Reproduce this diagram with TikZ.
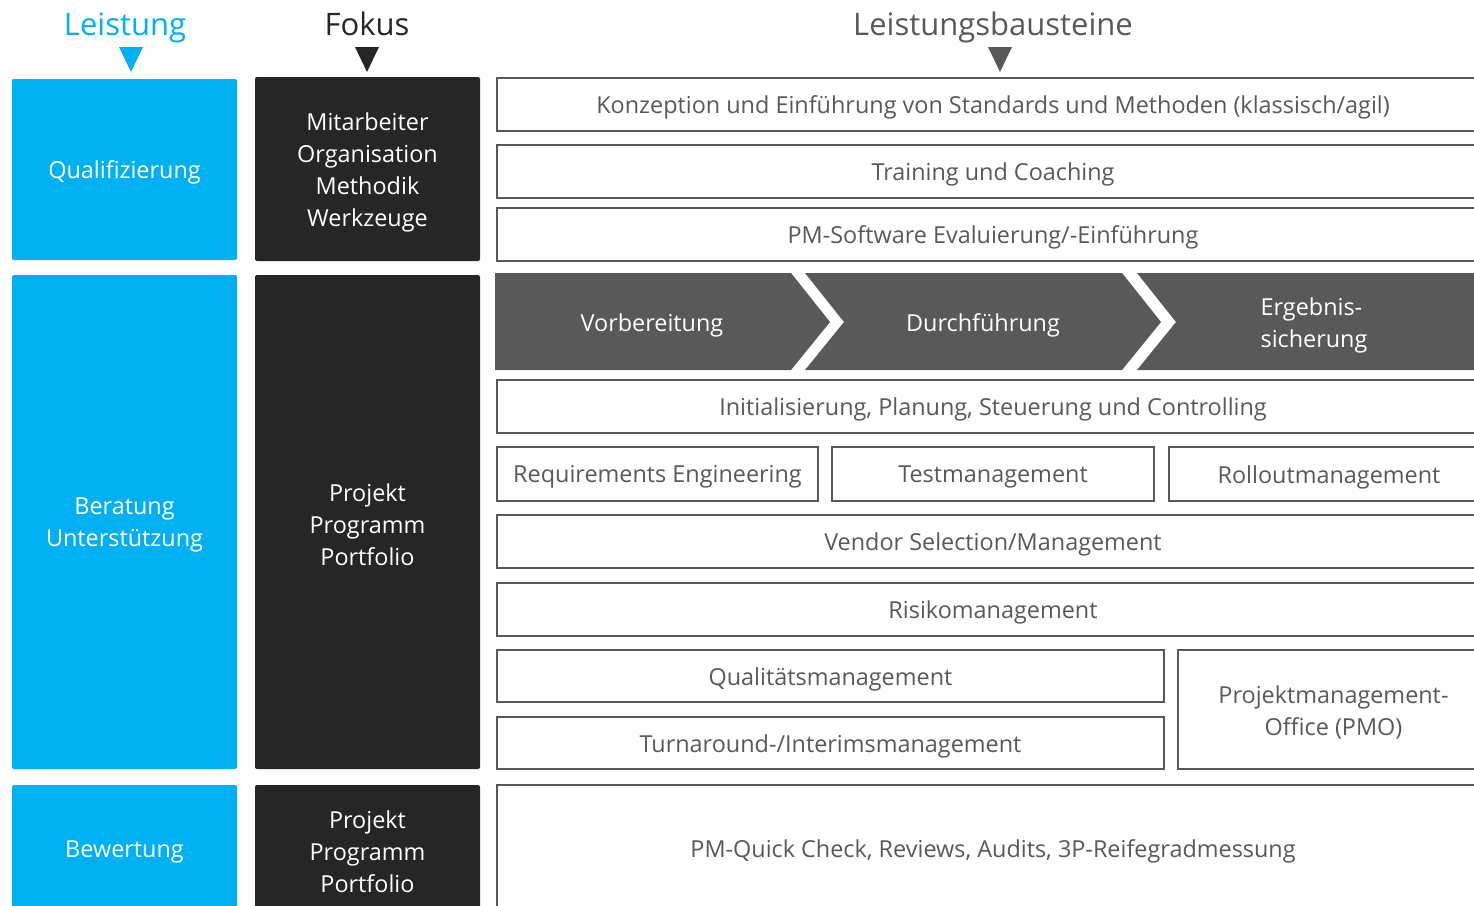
\documentclass[tikz,border=0pt]{standalone}
\usepackage{fontspec}
\setmainfont{Open Sans}
\definecolor{lblue}{HTML}{00B0F0}
\definecolor{dark}{HTML}{262626}
\definecolor{mgray}{HTML}{595959}
\begin{document}
\begin{tikzpicture}[x=1pt,y=-1pt,
  txt/.style={font=\fontsize{23.4}{32}\selectfont, align=center, inner sep=0pt, outer sep=0pt},
  lw/.style={txt, text=white, yshift=-3pt},
  lg/.style={txt, text=mgray, yshift=-3pt},
  bluebox/.style={fill=lblue, rounded corners=2pt, inner sep=0pt, outer sep=0pt, anchor=north west},
  darkbox/.style={fill=dark, rounded corners=2pt, inner sep=0pt, outer sep=0pt, anchor=north west},
  wbox/.style={draw=mgray, line width=2.6pt, fill=white, inner sep=0pt, outer sep=0pt, anchor=north west},
  head/.style={font=\fontsize{31}{36}\selectfont, inner sep=0pt, anchor=base},
  chev/.style={fill=mgray},
]
\useasboundingbox (0,0) rectangle (1474,905);
\clip (0,0) rectangle (1474,905);

% headers
\node[head, text=lblue] (hL) at (125,35) {Leistung};
\node[head, text=dark] (hF) at (367,35) {Fokus};
\node[head, text=mgray] (hB) at (993,35) {Leistungsbausteine};
\fill[lblue] (119,47) -- (143,47) -- (131,72) -- cycle;
\fill[dark] (355,47) -- (379,47) -- (367,72) -- cycle;
\fill[mgray] (988,47) -- (1012,47) -- (1000,72) -- cycle;

% left column
\node[bluebox, minimum width=225pt, minimum height=181pt, label={[lw]center:Qualifizierung}] (q) at (12,79) {};
\node[bluebox, minimum width=225pt, minimum height=494pt, label={[lw]center:Beratung\\Unterstützung}] (b) at (12,275) {};
\node[bluebox, minimum width=225pt, minimum height=127pt, label={[lw]center:Bewertung}] (w) at (12,785) {};

% focus column
\node[darkbox, minimum width=225pt, minimum height=184pt, label={[lw]center:Mitarbeiter\\Organisation\\Methodik\\Werkzeuge}] (f1) at (255,77) {};
\node[darkbox, minimum width=225pt, minimum height=494pt, label={[lw]center:Projekt\\Programm\\Portfolio}] (f2) at (255,275) {};
\node[darkbox, minimum width=225pt, minimum height=127pt, label={[lw]center:Projekt\\Programm\\Portfolio}] (f3) at (255,785) {};

% building blocks
\node[wbox, minimum width=992pt, minimum height=53pt, label={[lg]center:Konzeption und Einführung von Standards und Methoden (klassisch/agil)}] (k) at (497,78) {};
\node[wbox, minimum width=992pt, minimum height=53pt, label={[lg]center:Training und Coaching}] (t) at (497,145) {};
\node[wbox, minimum width=992pt, minimum height=53pt, label={[lg]center:PM-Software Evaluierung/-Einführung}] (s) at (497,208) {};

% chevrons
\fill[chev] (495,273) -- (791,273) -- (830,322) -- (791,370) -- (495,370) -- cycle;
\fill[chev] (805,273) -- (1122,273) -- (1161,322) -- (1122,370) -- (805,370) -- (844,322) -- cycle;
\fill[chev] (1137,273) -- (1489,273) -- (1489,370) -- (1137,370) -- (1176,322) -- cycle;
\node[lw] (c1) at (652,322) {Vorbereitung};
\node[lw] (c2) at (983,322) {Durchführung};
\node[lw, align=left] (c3) at (1314,322) {Ergebnis-\\sicherung};

\node[wbox, minimum width=992pt, minimum height=53pt, label={[lg]center:Initialisierung, Planung, Steuerung und Controlling}] (i) at (497,380) {};
\node[wbox, minimum width=321pt, minimum height=54pt, label={[lg]center:Requirements Engineering}] (re) at (497,447) {};
\node[wbox, minimum width=322pt, minimum height=54pt, label={[lg]center:Testmanagement}] (tm) at (832,447) {};
\node[wbox, minimum width=320pt, minimum height=54pt, label={[lg]center:Rolloutmanagement}] (ro) at (1169,447) {};
\node[wbox, minimum width=992pt, minimum height=53pt, label={[lg]center:Vendor Selection/Management}] (v) at (497,515) {};
\node[wbox, minimum width=992pt, minimum height=53pt, label={[lg]center:Risikomanagement}] (r) at (497,583) {};
\node[wbox, minimum width=667pt, minimum height=52pt, label={[lg]center:Qualitätsmanagement}] (qm) at (497,650) {};
\node[wbox, minimum width=667pt, minimum height=52pt, label={[lg]center:Turnaround-/Interimsmanagement}] (tu) at (497,717) {};
\node[wbox, minimum width=311pt, minimum height=119pt, label={[lg]center:Projektmanagement-\\Office (PMO)}] (pmo) at (1178,650) {};
\node[wbox, minimum width=992pt, minimum height=127pt, label={[lg]center:PM-Quick Check, Reviews, Audits, 3P-Reifegradmessung}] (pq) at (497,785) {};
\end{tikzpicture}
\end{document}
